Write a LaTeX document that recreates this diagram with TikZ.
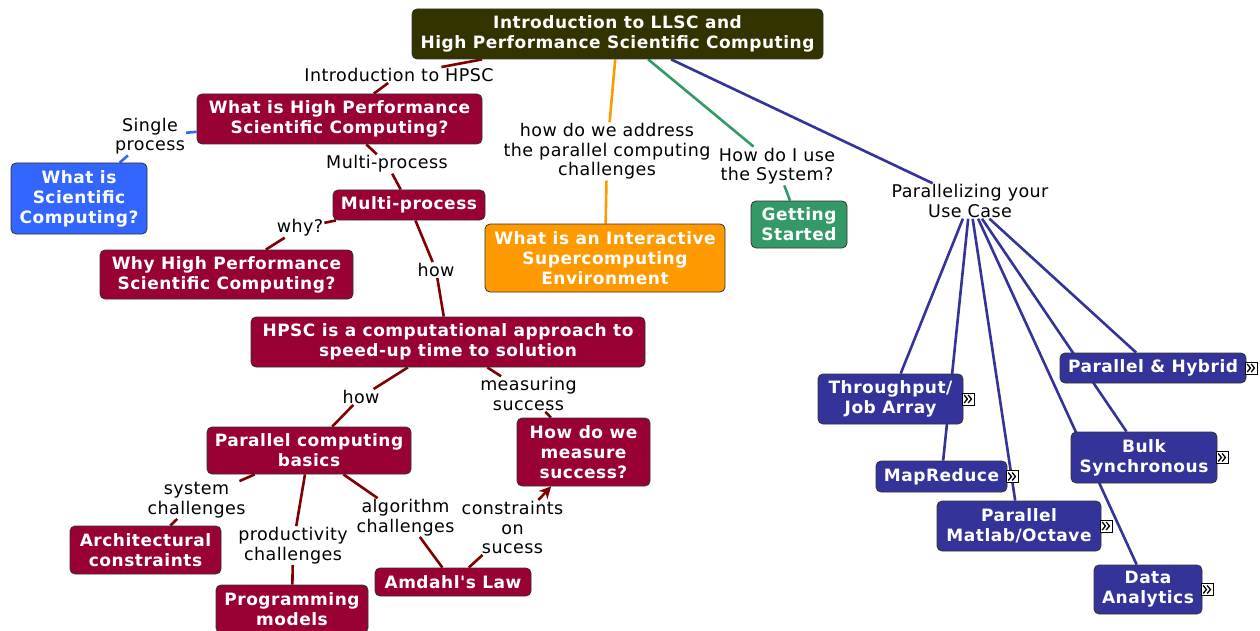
\documentclass[tikz,border=0pt]{standalone}
\usepackage{fontspec}
\setmainfont{DejaVu Sans}
\newfontfamily\boxfont[LetterSpace=3]{DejaVu Sans Bold}
\newfontfamily\lblfont[LetterSpace=2.5]{DejaVu Sans}
\usetikzlibrary{backgrounds,arrows.meta}
\definecolor{olive}{HTML}{333300}
\definecolor{crim}{HTML}{990033}
\definecolor{lblue}{HTML}{3366FF}
\definecolor{orng}{HTML}{FF9900}
\definecolor{grn}{HTML}{339966}
\definecolor{navy}{HTML}{333399}
\definecolor{maroon}{HTML}{800000}
\tikzset{
  box/.style={rounded corners=5pt, draw=black!80, line width=0.8pt, text=white,
    font=\boxfont\fontsize{17}{20}\selectfont, align=center, inner sep=1pt},
  lbl/.style={font=\lblfont\fontsize{17.5}{19.5}\selectfont, align=center, inner sep=1pt, text=black},
  conn/.style={line width=2.6pt},
  icon/.style={draw=black, fill=white, line width=0.6pt, minimum size=12pt, inner sep=0pt, anchor=west},
  chev/.style={line width=1.3pt, black, line cap=butt, line join=miter}
}
\newcommand\chevrons[1]{%
  \draw[chev] ([shift={(-4.5,-4)}]#1.center) -- ++(3.2,4) -- ++(-3.2,4);
  \draw[chev] ([shift={(-0.5,-4)}]#1.center) -- ++(3.2,4) -- ++(-3.2,4);}
\begin{document}
\begin{tikzpicture}[x=1pt,y=-1pt]
\useasboundingbox (0,0) rectangle (1260,631);
% nodes
\node[box, fill=olive, minimum width=411, minimum height=50] (root) at (617.5,34) {Introduction to LLSC and\\High Performance Scientific Computing};
\node[box, fill=crim, minimum width=285, minimum height=50] (whatis) at (339.5,119) {What is High Performance\\Scientific Computing?};
\node[box, fill=lblue, minimum width=136, minimum height=71] (sci) at (79,198.5) {What is\\Scientific\\Computing?};
\node[box, fill=crim, minimum width=152, minimum height=30] (multi) at (409,205) {Multi-process};
\node[box, fill=crim, minimum width=253, minimum height=49] (why) at (226.5,274.5) {Why High Performance\\Scientific Computing?};
\node[box, fill=orng, minimum width=240, minimum height=68] (ise) at (605,258) {What is an Interactive\\Supercomputing\\Environment};
\node[box, fill=grn, minimum width=96, minimum height=47] (gs) at (799,224.5) {Getting\\Started};
\node[box, fill=crim, minimum width=394, minimum height=50] (hpsc) at (448,342) {HPSC is a computational approach to\\speed-up time to solution};
\node[box, fill=crim, minimum width=204, minimum height=47] (pcb) at (309,450.5) {Parallel computing\\basics};
\node[box, fill=crim, minimum width=133, minimum height=68] (meas) at (583.5,452) {How do we\\measure\\success?};
\node[box, fill=crim, minimum width=151, minimum height=48] (arch) at (145.5,550) {Architectural\\constraints};
\node[box, fill=crim, minimum width=152, minimum height=48] (prog) at (292,609) {Programming\\models};
\node[box, fill=crim, minimum width=156, minimum height=28] (amd) at (453,582) {Amdahl's Law};
\node[box, fill=navy, minimum width=145, minimum height=50] (tp) at (890.5,399) {Throughput/\\Job Array};
\node[box, fill=navy, minimum width=131, minimum height=31] (mr) at (941.5,476.5) {MapReduce};
\node[box, fill=navy, minimum width=164, minimum height=50] (pm) at (1019,526) {Parallel\\Matlab/Octave};
\node[box, fill=navy, minimum width=186, minimum height=30] (ph) at (1153,368) {Parallel \& Hybrid};
\node[box, fill=navy, minimum width=146, minimum height=51] (bs) at (1144,457.5) {Bulk\\Synchronous};
\node[box, fill=navy, minimum width=108, minimum height=49] (da) at (1148,589.5) {Data\\Analytics};
% icons
\node[icon] (itp) at ([xshift=-1pt]tp.east) {};
\node[icon] (imr) at ([xshift=-1pt]mr.east) {};
\node[icon] (ipm) at ([xshift=-1pt]pm.east) {};
\node[icon] (iph) at ([xshift=-1pt]ph.east) {};
\node[icon] (ibs) at ([xshift=-1pt]bs.east) {};
\node[icon] (ida) at ([xshift=-1pt]da.east) {};
\chevrons{itp}\chevrons{imr}\chevrons{ipm}\chevrons{iph}\chevrons{ibs}\chevrons{ida}
% labels
\node[lbl] (l1) at (399,75) {Introduction to HPSC};
\node[lbl] (l2) at (150,136) {Single\\process};
\node[lbl] (l3) at (387,164) {Multi-process};
\node[lbl] (l4) at (300,228) {why?};
\node[lbl] (l5) at (436,270) {how};
\node[lbl] (l6) at (607,151.5) {how do we address\\the parallel computing\\challenges};
\node[lbl] (l7) at (777,166) {How do I use\\the System?};
\node[lbl] (l8) at (970,201) {Parallelizing your\\Use Case};
\node[lbl] (l9) at (361,397) {how};
\node[lbl] (l10) at (528.5,394) {measuring\\success};
\node[lbl] (l11) at (196.5,500) {system\\challenges};
\node[lbl] (l12) at (293,545.5) {productivity\\challenges};
\node[lbl] (l13) at (405.5,517.5) {algorithm\\challenges};
\node[lbl] (l14) at (512.5,527.5) {constraints\\on\\sucess};
% connectors
\begin{pgfonlayer}{background}
\draw[conn, maroon] (root) -- (l1);
\draw[conn, maroon] (l1) -- (whatis);
\draw[conn, lblue] (whatis) -- (l2);
\draw[conn, lblue] (l2) -- (sci);
\draw[conn, maroon] (whatis) -- (l3);
\draw[conn, maroon] (l3) -- (multi);
\draw[conn, maroon] (multi) -- (l4);
\draw[conn, maroon] (l4) -- (why);
\draw[conn, maroon] (multi) -- (l5);
\draw[conn, maroon] (l5) -- (hpsc);
\draw[conn, orng] (root) -- (l6);
\draw[conn, orng] (l6) -- (ise);
\draw[conn, grn] (root) -- (l7);
\draw[conn, grn] (l7) -- (gs);
\draw[conn, navy] (root) -- (l8);
\draw[conn, navy] (l8) -- (tp);
\draw[conn, navy] (l8) -- (mr);
\draw[conn, navy] (l8) -- (pm);
\draw[conn, navy] (l8) -- (ph);
\draw[conn, navy] (l8) -- (bs);
\draw[conn, navy] (l8) -- (da);
\draw[conn, maroon] (hpsc) -- (l9);
\draw[conn, maroon] (l9) -- (pcb);
\draw[conn, maroon] (hpsc) -- (l10);
\draw[conn, maroon] (l10) -- (meas);
\draw[conn, maroon] (pcb) -- (l11);
\draw[conn, maroon] (l11) -- (arch);
\draw[conn, maroon] (pcb) -- (l12);
\draw[conn, maroon] (l12) -- (prog);
\draw[conn, maroon] (pcb) -- (l13);
\draw[conn, maroon] (l13) -- (amd);
\draw[conn, maroon] (amd) -- (l14);
\draw[conn, maroon, -{Stealth[length=12pt,width=12pt]}] (l14) -- (meas);
\end{pgfonlayer}
\end{tikzpicture}
\end{document}
